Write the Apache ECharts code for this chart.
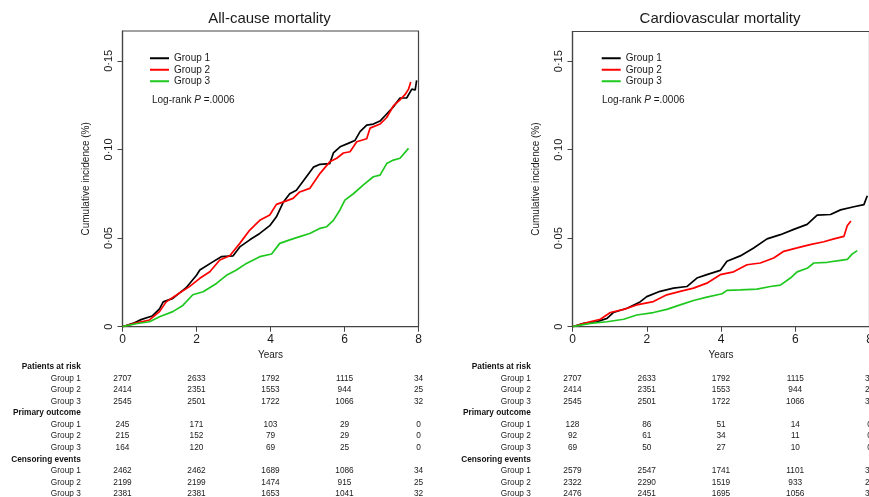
<!DOCTYPE html>
<html>
<head>
<meta charset="utf-8">
<script src="https://cdn.jsdelivr.net/npm/echarts@6/dist/echarts.min.js"></script>
<style>
html,body{margin:0;padding:0;background:#fff;}
#c{width:869px;height:497px;}
</style>
</head>
<body>
<div id="c"></div>
<script>
// ---------- DATA ----------
const panelTitles = ['All-cause mortality', 'Cardiovascular mortality'];
const groupNames = ['Group 1', 'Group 2', 'Group 3'];
const pValueText = '.0006';
const xTicks = [0, 2, 4, 6, 8];
const yTicks = [0, 0.05, 0.10, 0.15];

// All-cause mortality curves [years, cumulative incidence]
const allG1 = [[0,0],[0.3,0.002],[0.5,0.004],[0.8,0.006],[1.0,0.010],[1.1,0.014],[1.36,0.016],[1.72,0.022],[2.0,0.029],[2.09,0.032],[2.45,0.0367],[2.67,0.0395],[2.99,0.040],[3.17,0.045],[3.44,0.049],[3.71,0.0526],[3.98,0.057],[4.16,0.062],[4.34,0.070],[4.52,0.075],[4.70,0.077],[4.88,0.082],[5.16,0.090],[5.34,0.0916],[5.6,0.092],[5.70,0.098],[5.88,0.1015],[6.1,0.1034],[6.28,0.105],[6.42,0.110],[6.6,0.1137],[6.78,0.1143],[6.96,0.116],[7.14,0.120],[7.32,0.124],[7.5,0.129],[7.68,0.129],[7.82,0.134],[7.91,0.1335],[7.95,0.139]];
const allG2 = [[0,0],[0.35,0.002],[0.73,0.0038],[1.0,0.0085],[1.18,0.014],[1.54,0.019],[1.81,0.0226],[2.09,0.0273],[2.36,0.031],[2.63,0.0376],[2.9,0.040],[3.17,0.047],[3.44,0.0545],[3.71,0.060],[3.98,0.063],[4.16,0.069],[4.43,0.071],[4.61,0.0724],[4.79,0.076],[5.06,0.078],[5.34,0.0865],[5.6,0.093],[5.79,0.095],[5.97,0.098],[6.15,0.0987],[6.33,0.1043],[6.6,0.106],[6.69,0.112],[6.96,0.1143],[7.14,0.118],[7.32,0.1245],[7.5,0.128],[7.64,0.131],[7.73,0.134],[7.79,0.138]];
const allG3 = [[0,0],[0.4,0.0018],[0.73,0.0028],[1.0,0.0056],[1.36,0.0085],[1.63,0.012],[1.9,0.018],[2.18,0.0197],[2.54,0.0244],[2.81,0.029],[3.08,0.032],[3.35,0.0357],[3.71,0.0395],[4.03,0.041],[4.25,0.047],[4.52,0.049],[4.79,0.0508],[5.06,0.0526],[5.34,0.0555],[5.52,0.0564],[5.7,0.060],[5.88,0.066],[6.01,0.0714],[6.24,0.075],[6.51,0.080],[6.78,0.0846],[6.96,0.0855],[7.14,0.092],[7.32,0.094],[7.5,0.095],[7.73,0.1006]];

// Cardiovascular mortality curves
const cvG1 = [[0,0],[0.3,0.0019],[0.66,0.0028],[0.93,0.0047],[1.1,0.008],[1.47,0.0104],[1.82,0.014],[2.0,0.017],[2.36,0.020],[2.72,0.0218],[3.08,0.0227],[3.35,0.0275],[3.62,0.0294],[3.98,0.0318],[4.16,0.037],[4.52,0.040],[4.88,0.0445],[5.24,0.0496],[5.6,0.052],[5.96,0.055],[6.32,0.0578],[6.59,0.063],[6.95,0.0634],[7.22,0.066],[7.58,0.0678],[7.85,0.069],[7.94,0.074]];
const cvG2 = [[0,0],[0.39,0.0023],[0.75,0.0042],[1.02,0.008],[1.38,0.0098],[1.73,0.0123],[2.18,0.0142],[2.54,0.018],[2.9,0.020],[3.26,0.0218],[3.62,0.0246],[3.98,0.0294],[4.34,0.031],[4.7,0.035],[5.06,0.036],[5.42,0.0388],[5.69,0.0426],[6.05,0.0445],[6.4,0.0464],[6.77,0.048],[7.04,0.0496],[7.31,0.051],[7.4,0.057],[7.5,0.0597]];
const cvG3 = [[0,0],[0.48,0.0019],[0.93,0.0028],[1.38,0.0042],[1.73,0.0066],[2.18,0.008],[2.54,0.0098],[2.9,0.0123],[3.26,0.0148],[3.62,0.0167],[4.03,0.0186],[4.16,0.0205],[4.52,0.0208],[4.97,0.0212],[5.33,0.0227],[5.6,0.0235],[5.87,0.0275],[6.05,0.031],[6.32,0.033],[6.5,0.036],[6.86,0.0364],[7.22,0.0375],[7.4,0.038],[7.53,0.041],[7.67,0.043]];

// Risk tables
const tableHeaders = ['Patients at risk', 'Primary outcome', 'Censoring events'];
const allRisk   = [[2707,2633,1792,1115,34],[2414,2351,1553,944,25],[2545,2501,1722,1066,32]];
const allEvents = [[245,171,103,29,0],[215,152,79,29,0],[164,120,69,25,0]];
const allCensor = [[2462,2462,1689,1086,34],[2199,2199,1474,915,25],[2381,2381,1653,1041,32]];
const cvRisk    = [[2707,2633,1792,1115,34],[2414,2351,1553,944,25],[2545,2501,1722,1066,32]];
const cvEvents  = [[128,86,51,14,0],[92,61,34,11,0],[69,50,27,10,0]];
const cvCensor  = [[2579,2547,1741,1101,34],[2322,2290,1519,933,25],[2476,2451,1695,1056,32]];

// ---------- CHART ----------
const FONT = '"Liberation Sans", Arial, Helvetica, sans-serif';
const TXT = '#1a1a1a';
const AX = '#444';
const colors = ['#000000', '#ff0000', '#1ec81e'];
const grids = [
  {left: 122.5, top: 31, width: 296, height: 295.7},
  {left: 572.5, top: 31.5, width: 297, height: 295.2}
];
const curves = [[allG1, allG2, allG3], [cvG1, cvG2, cvG3]];
const tables = [[allRisk, allEvents, allCensor], [cvRisk, cvEvents, cvCensor]];

const chart = echarts.init(document.getElementById('c'), null, {renderer: 'canvas'});

const fmtY = v => v === 0 ? '0' : v.toFixed(2).replace('.', '\u00b7');

const option = {
  animation: false,
  backgroundColor: '#fff',
  textStyle: {fontFamily: FONT},
  grid: grids.map(g => Object.assign({show: true, borderColor: AX, borderWidth: 1.2, backgroundColor: 'transparent',
    containLabel: false, outerBoundsMode: 'none'}, g)),
  xAxis: grids.map((g, i) => ({
    type: 'value', gridIndex: i, min: 0, max: 8, interval: 2,
    axisLine: {show: true, onZero: false, lineStyle: {color: AX, width: 1.2}},
    axisTick: {show: true, length: 5, lineStyle: {color: AX}},
    axisLabel: {fontSize: 12, margin: 7, color: TXT, fontFamily: FONT, showMaxLabel: true},
    splitLine: {show: false},
    name: 'Years', nameLocation: 'middle', nameGap: 23,
    nameTextStyle: {fontSize: 10, color: TXT, fontFamily: FONT}
  })),
  yAxis: grids.map((g, i) => ({
    type: 'value', gridIndex: i, min: 0, max: 0.1668,
    axisLine: {show: true, lineStyle: {color: AX, width: 1.2}},
    axisTick: {show: true, length: 5, lineStyle: {color: AX}, customValues: yTicks},
    axisLabel: {customValues: yTicks, rotate: 90, formatter: fmtY, fontSize: 11, margin: 8, color: TXT, fontFamily: FONT},
    splitLine: {show: false},
    name: 'Cumulative incidence (%)', nameLocation: 'middle', nameGap: 31,
    nameTextStyle: {fontSize: 10, color: TXT, fontFamily: FONT}
  })),
  legend: [
    {left: 150, top: 52.5, orient: 'vertical'},
    {left: 601.7, top: 52.5, orient: 'vertical'}
  ].map(l => Object.assign({
    data: groupNames, icon: 'rect', itemWidth: 19, itemHeight: 2, itemGap: 0, itemTextGap: 8,
    selectedMode: false, padding: 0,
    textStyle: {fontSize: 10, color: TXT, fontFamily: FONT, lineHeight: 11.5}
  }, l)),
  series: []
};

curves.forEach((set, p) => {
  set.forEach((data, k) => {
    option.series.push({
      type: 'line', name: groupNames[k], xAxisIndex: p, yAxisIndex: p,
      data: data, showSymbol: false, symbol: 'none',
      color: colors[k], lineStyle: {color: colors[k], width: 1.7},
      silent: true, z: 2 + k
    });
  });
});

chart.setOption(option);

// ---------- TEXT ELEMENTS (titles, p-value, risk tables) ----------
const graphics = [];
const rowY0 = 366.7, rowStep = 11.57;
grids.forEach((g, p) => {
  graphics.push({type: 'text', x: g.left + g.width / 2 - 1, y: 19,
    style: {text: panelTitles[p], fill: TXT, font: '15px ' + FONT, textAlign: 'center', textVerticalAlign: 'middle'}});
  graphics.push({type: 'text', x: g.left + 29.5, y: 100.5,
    style: {text: '{n|Log-rank }{i|P}{n| =' + pValueText + '}', textVerticalAlign: 'middle',
      rich: {n: {fontSize: 10, fontFamily: FONT, fill: TXT}, i: {fontSize: 10, fontFamily: FONT, fill: TXT, fontStyle: 'italic'}}}});
  const labelX = g.left - 41.7;
  const colX = xTicks.map(t => chart.convertToPixel({xAxisIndex: p}, t));
  let row = 0;
  tables[p].forEach((block, b) => {
    graphics.push({type: 'text', x: labelX, y: rowY0 + rowStep * row,
      style: {text: tableHeaders[b], fill: '#111', font: 'bold 8.3px ' + FONT, textAlign: 'right', textVerticalAlign: 'middle'}});
    row++;
    block.forEach((vals, k) => {
      const y = rowY0 + rowStep * row;
      graphics.push({type: 'text', x: labelX, y: y,
        style: {text: groupNames[k], fill: TXT, font: '8.3px ' + FONT, textAlign: 'right', textVerticalAlign: 'middle'}});
      vals.forEach((v, c) => {
        graphics.push({type: 'text', x: colX[c], y: y,
          style: {text: String(v), fill: TXT, font: '8.3px ' + FONT, textAlign: 'center', textVerticalAlign: 'middle'}});
      });
      row++;
    });
  });
});
chart.setOption({graphic: graphics});
</script>
</body>
</html>
